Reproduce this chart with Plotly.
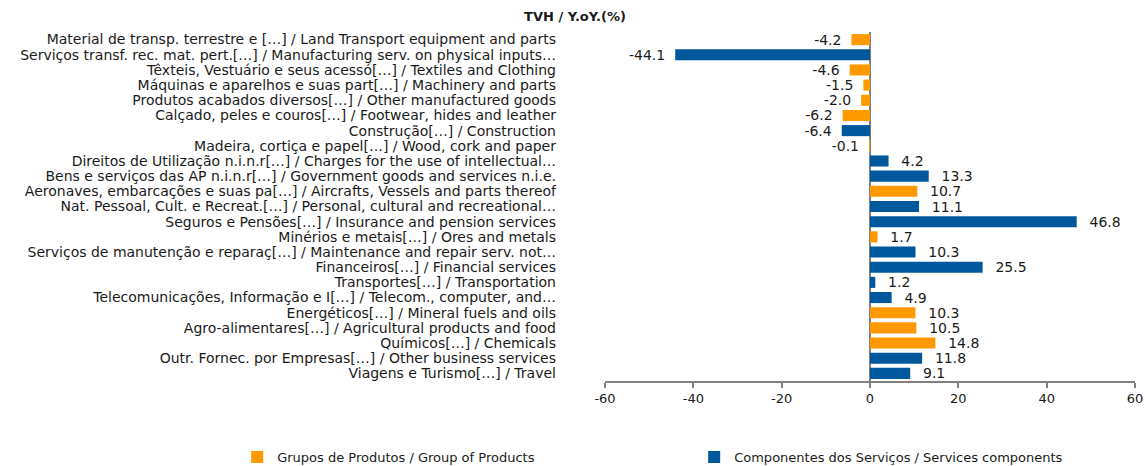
import plotly.graph_objects as go

categories = [
    "Material de transp. terrestre e […] / Land Transport equipment and parts",
    "Serviços transf. rec. mat. pert.[…] / Manufacturing serv. on physical inputs…",
    "Têxteis, Vestuário e seus acessó[…] / Textiles and Clothing",
    "Máquinas e aparelhos e suas part[…] / Machinery and parts",
    "Produtos acabados diversos[…] / Other manufactured goods",
    "Calçado, peles e couros[…] / Footwear, hides and leather",
    "Construção[…] / Construction",
    "Madeira, cortiça e papel[…] / Wood, cork and paper",
    "Direitos de Utilização n.i.n.r[…] / Charges for the use of intellectual…",
    "Bens e serviços das AP n.i.n.r[…] / Government goods and services n.i.e.",
    "Aeronaves, embarcações e suas pa[…] / Aircrafts, Vessels and parts thereof",
    "Nat. Pessoal, Cult. e Recreat.[…] / Personal, cultural and recreational…",
    "Seguros e Pensões[…] / Insurance and pension services",
    "Minérios e metais[…] / Ores and metals",
    "Serviços de manutenção e reparaç[…] / Maintenance and repair serv. not…",
    "Financeiros[…] / Financial services",
    "Transportes[…] / Transportation",
    "Telecomunicações, Informação e I[…] / Telecom., computer, and…",
    "Energéticos[…] / Mineral fuels and oils",
    "Agro-alimentares[…] / Agricultural products and food",
    "Químicos[…] / Chemicals",
    "Outr. Fornec. por Empresas[…] / Other business services",
    "Viagens e Turismo[…] / Travel",
]
values = [-4.2, -44.1, -4.6, -1.5, -2.0, -6.2, -6.4, -0.1, 4.2, 13.3, 10.7, 11.1,
          46.8, 1.7, 10.3, 25.5, 1.2, 4.9, 10.3, 10.5, 14.8, 11.8, 9.1]
groups = ["P", "S", "P", "P", "P", "P", "S", "P", "S", "S", "P", "S",
          "S", "P", "S", "S", "S", "S", "P", "P", "P", "S", "S"]
series_names = {"P": "Grupos de Produtos / Group of Products",
                "S": "Componentes dos Serviços / Services components"}
x_ticks = [-60, -40, -20, 0, 20, 40, 60]

colors = {"P": "#FF9900", "S": "#00589C"}
FONT = "DejaVu Sans, Liberation Sans, Arial, sans-serif"

fig = go.Figure()
for g in ["P", "S"]:
    ys = [c for c, gg in zip(categories, groups) if gg == g]
    xs = [v for v, gg in zip(values, groups) if gg == g]
    # a little extra breathing room between bar end and its value label
    tt = ["%{x:.1f}\u2002" if v < 0 else "\u2002\u2009%{x:.1f}" for v in xs]
    fig.add_trace(go.Bar(
        y=ys, x=xs, orientation="h", name=series_names[g],
        marker=dict(color=colors[g], line=dict(width=0)),
        texttemplate=tt, textposition="outside", cliponaxis=False,
        constraintext="none",
        textfont=dict(size=14, color="#1a1a1a", family=FONT),
    ))

fig.update_layout(
    width=1145, height=466,
    paper_bgcolor="white", plot_bgcolor="white",
    margin=dict(l=605, r=10, t=32, b=85, autoexpand=False),
    barmode="overlay", bargap=0.27,
    font=dict(family=FONT, size=14, color="#1a1a1a"),
    title=dict(text="<b>TVH / Y.oY.(%)</b>", x=575 / 1145, xref="container", xanchor="center",
               y=1 - 16 / 466, yref="container", yanchor="middle",
               font=dict(size=13, color="#1a1a1a", family=FONT)),
    showlegend=True,
    legend=dict(orientation="h", x=-0.694, xanchor="left", y=-0.218, yanchor="middle",
                entrywidth=412, entrywidthmode="pixels",
                font=dict(size=13, color="#1a1a1a", family=FONT), traceorder="normal"),
)
fig.update_xaxes(
    range=[-60, 60], tickvals=x_ticks, ticktext=[str(t) for t in x_ticks],
    showgrid=False, zeroline=True, zerolinecolor="#808080", zerolinewidth=1.5,
    showline=True, linecolor="#808080", linewidth=1.5,
    ticks="outside", ticklen=5, tickcolor="#808080", tickwidth=1.5,
    tickfont=dict(size=13), automargin=False,
)
fig.update_yaxes(
    categoryorder="array", categoryarray=categories, autorange="reversed",
    tickmode="array", tickvals=categories,
    showgrid=False, zeroline=False, showline=False, ticks="",
    ticklabelstandoff=48, tickfont=dict(size=14), automargin=False,
)

# remove the default 8px page margin so the figure fills the window exactly
fig.write_html("out.html", config={"displayModeBar": False},
               post_script="document.body.style.margin='0';")
